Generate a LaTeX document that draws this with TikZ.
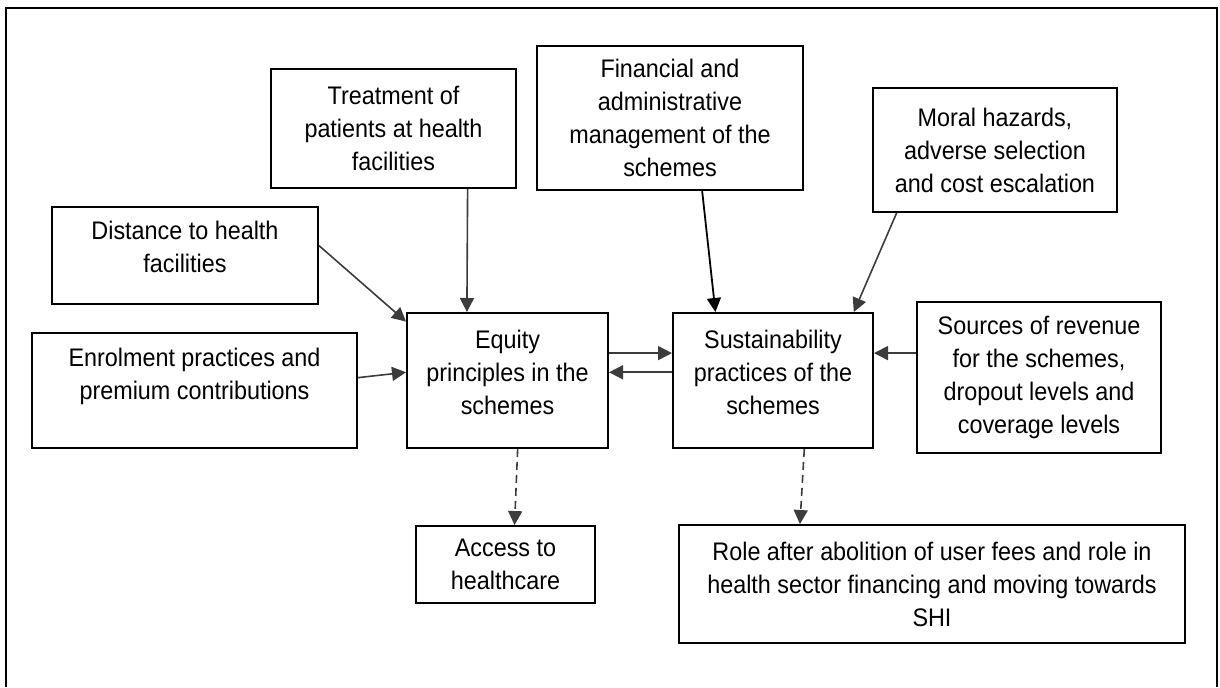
\documentclass[tikz,border=0pt]{standalone}
\usepackage{fontspec}
\setmainfont[FakeStretch=0.92]{Liberation Sans}
\usetikzlibrary{
arrows.meta,
calc,
positioning
}
\definecolor{arrgray}{HTML}{3C3C3C}
\tikzset{>={Triangle[length=7pt,width=7pt]},
	box/.style={draw=black, line width=1pt, rectangle, inner sep=0pt, align=center,
		font=\fontsize{12.7}{16.5}\selectfont},
	arr/.style={->, draw=arrgray, line width=0.8pt},
	darr/.style={->, draw=arrgray, line width=0.8pt, dash pattern=on 4pt off 2.5pt}
}

\begin{document}
\begin{tikzpicture}[x=0.5pt, y=-0.5pt]
	\useasboundingbox (0,0) rectangle (1220,687);
	% frame
	\draw[line width=1.1pt] (6,687) -- (6,8) -- (1217,8) -- (1217,687);

	% influences
	\node[box, minimum width=122.5pt, minimum height=59.5pt] (treat) at (393.5,128.5) {Treatment of\\patients at health\\facilities};
	\node[box, minimum width=133pt, minimum height=72pt] (fin) at (670,118) {Financial and\\administrative\\management of the\\schemes};
	\node[box, minimum width=122pt, minimum height=62pt] (moral) at (995,150) {Moral hazards,\\adverse selection\\and cost escalation};
	\node[box, minimum width=133pt, minimum height=48.5pt] (dist) at (185,255.5) {Distance to health\\facilities\\[-8pt]\mbox{}};
	\node[box, minimum width=162.5pt, minimum height=57.5pt] (enrol) at (194.5,390.5) {Enrolment practices and\\premium contributions\\\mbox{}};
	\node[box, minimum width=122pt, minimum height=75.5pt] (src) at (1039,377.5) {Sources of revenue\\for the schemes,\\dropout levels and\\coverage levels};

	% core
	\node[box, minimum width=100.5pt, minimum height=67.5pt] (equity) at (507.5,380.5) {Equity\\principles in the\\schemes\\[-8pt]\mbox{}};
	\node[box, minimum width=100pt, minimum height=67.5pt] (sust) at (773,380.5) {Sustainability\\practices of the\\schemes\\[-8pt]\mbox{}};

	% outcomes
	\node[box, minimum width=89.5pt, minimum height=38.5pt] (access) at (505.5,564.5) {Access to\\healthcare};
	\node[box, minimum width=253pt, minimum height=59pt] (role) at (932,584) {Role after abolition of user fees and role in\\health sector financing and moving towards\\SHI};

	\draw[arr] ($(treat.south west)!.8!(treat.south east)$) -- ($(equity.north west)!.3!(equity.north east)$);
	\draw[arr] ($(dist.north east)!.4!(dist.south east)$) -- ($(equity.north west)!.07!(equity.south west)$);
	\draw[arr] ($(enrol.north east)!.39!(enrol.south east)$) -- ($(equity.north west)!.44!(equity.south west)$);
	\draw[->, line width=0.9pt] ($(fin.south west)!.62!(fin.south east)$) -- ($(sust.north west)!.215!(sust.north east)$);
	\draw[arr] ($(moral.south west)!.1!(moral.south east)$) -- ($(sust.north west)!.9!(sust.north east)$);
	\coordinate (se) at ($(sust.north east)!.3!(sust.south east)$);
	\draw[arr] (src.west |- se) -- (se);
	\draw[arr] ($(equity.north east)!.3!(equity.south east)$) -- ($(sust.north west)!.3!(sust.south west)$);
	\draw[arr] ($(sust.north west)!.44!(sust.south west)$) -- ($(equity.north east)!.44!(equity.south east)$);
	\draw[darr] ($(equity.south west)!.55!(equity.south east)$) -- ($(access.north west)!.55!(access.north east)$);
	\draw[darr] ($(sust.south west)!.655!(sust.south east)$) -- ($(role.north west)!.24!(role.north east)$);
\end{tikzpicture}
\end{document}
